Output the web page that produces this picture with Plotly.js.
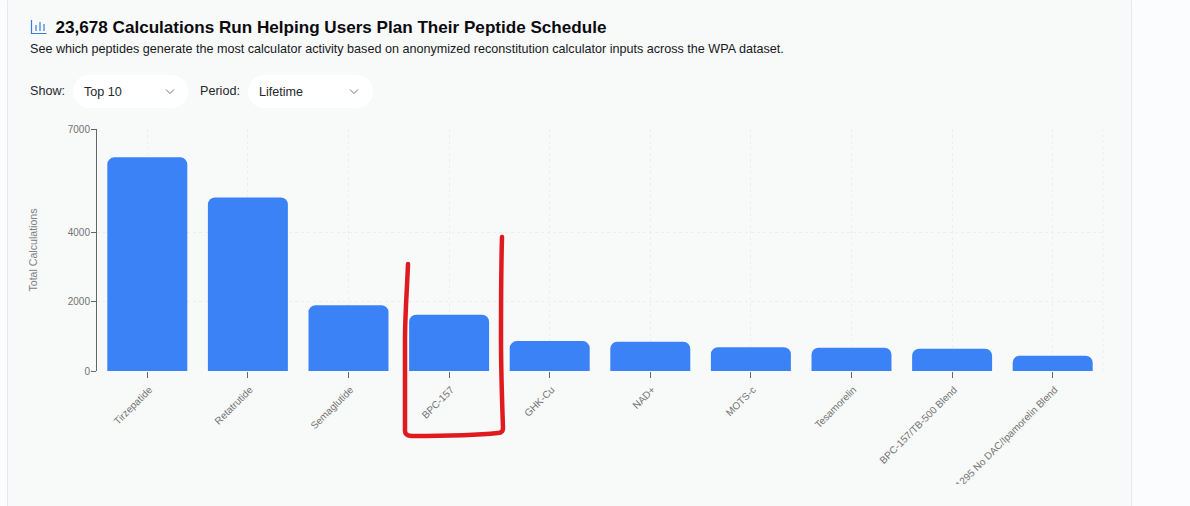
<!DOCTYPE html>
<html><head><meta charset="utf-8">
<script src="https://cdn.plot.ly/plotly-3.0.1.min.js"></script>
<style>
html,body{margin:0;padding:0;width:1190px;height:506px;overflow:hidden;background:#fbfcfd;font-family:"Liberation Sans",Arial,sans-serif;}
#card{position:absolute;left:7px;top:-14px;width:1123px;height:640px;background:#f8f9f9;border:1px solid #e6e8ea;border-radius:16px;}
#icon{position:absolute;left:30px;top:19px;}
h1{position:absolute;left:55.5px;top:17.5px;margin:0;font-size:17.1px;line-height:20px;font-weight:700;color:#0b0b0f;white-space:nowrap;}
#sub{position:absolute;left:30px;top:41px;font-size:12.6px;line-height:16px;color:#17181c;white-space:nowrap;}
.lab{position:absolute;top:84px;font-size:12.6px;line-height:15px;color:#26272b;}
.sel{position:absolute;top:75px;height:33px;background:#fff;border-radius:17px;font-size:12.6px;line-height:33px;color:#26272b;}
.sel span{position:absolute;left:11px;top:.5px;}
.sel svg{position:absolute;top:13px;}
#chart{position:absolute;left:0;top:120.4px;width:1190px;height:364px;overflow:hidden;}
#mark{position:absolute;left:0;top:0;pointer-events:none;}
</style></head><body>
<div id="card"></div>
<svg id="icon" width="17" height="16" viewBox="0 0 17 16" fill="none" stroke="#3b7be0" stroke-width="1.2"><path d="M1.5 1v13.5h15"/><path d="M6 6v6M10 3v9M14 5v7"/></svg>
<h1>23,678 Calculations Run Helping Users Plan Their Peptide Schedule</h1>
<div id="sub">See which peptides generate the most calculator activity based on anonymized reconstitution calculator inputs across the WPA dataset.</div>
<div class="lab" style="left:30px">Show:</div>
<div class="sel" style="left:73px;width:115px"><span>Top 10</span><svg width="12" height="8" style="left:91px" fill="none" stroke="#777" stroke-width="1"><path d="M2 1.5l4 4 4-4"/></svg></div>
<div class="lab" style="left:200px">Period:</div>
<div class="sel" style="left:248px;width:125px"><span>Lifetime</span><svg width="12" height="8" style="left:100px" fill="none" stroke="#777" stroke-width="1"><path d="M2 1.5l4 4 4-4"/></svg></div>
<div id="chart"></div>
<svg id="mark" width="1190" height="506" fill="none" stroke="#e01b20" stroke-width="4.5" stroke-linecap="round" stroke-linejoin="round"><path d="M408 264C407 290 405 315 405 340C405 375 405 405 405 431C405 435 408 436 412 436C440 436 470 436 498 433C502 433 503 431 503 428C502 400 501 370 501 340C501 305 501 270 502 237"/></svg>
<script>
var categories = ["Tirzepatide","Retatrutide","Semaglutide","BPC-157","GHK-Cu","NAD+","MOTS-c","Tesamorelin","BPC-157/TB-500 Blend","CJC-1295 No DAC/Ipamorelin Blend"];
var totalCalculations = [6180,5018,1903,1627,865,848,690,675,646,444];
var yTicks = [0,2000,4000,7000];
var barColor = "#3b82f6";
var tickColor = "#737373";
var axisColor = "#666666";
var gridColor = "#eceef0";

Plotly.newPlot("chart",[{
  type:"bar",
  x:categories,
  y:totalCalculations,
  width:0.795,
  marker:{color:barColor,cornerradius:7,line:{width:0}},
  hoverinfo:"x+y"
}],{
  width:1190,height:364,
  margin:{l:97,r:87,t:9,b:113,autoexpand:false},
  paper_bgcolor:"rgba(0,0,0,0)",plot_bgcolor:"rgba(0,0,0,0)",
  font:{family:'"Liberation Sans",Arial,sans-serif',size:10,color:tickColor},
  showlegend:false,
  xaxis:{
    type:"category",range:[-0.5,9.5],automargin:false,
    tickangle:-45,ticks:"outside",ticklen:6,tickcolor:axisColor,tickwidth:1,
    ticklabelstandoff:2,ticklabelshift:2,
    showline:false,zeroline:false,showgrid:true,gridcolor:gridColor,griddash:"3px,3px",gridwidth:1,
    tickfont:{size:10,color:tickColor}
  },
  yaxis:{
    range:[0,7000],tickmode:"array",tickvals:yTicks,ticktext:yTicks.map(String),automargin:false,
    ticks:"outside",ticklen:5,tickcolor:axisColor,tickwidth:1,ticklabelstandoff:-1,
    showline:true,linecolor:axisColor,linewidth:1,zeroline:false,
    showgrid:true,gridcolor:gridColor,griddash:"3px,3px",gridwidth:1,
    tickfont:{size:10,color:tickColor},
    title:{text:"Total Calculations",font:{size:10.6,color:"#808080"},standoff:28}
  },
  shapes:[{type:"line",xref:"paper",yref:"paper",x0:1,x1:1,y0:0,y1:1,line:{color:gridColor,width:1,dash:"3px,3px"},layer:"below"}]
},{displayModeBar:false,responsive:false});
</script>
</body></html>
